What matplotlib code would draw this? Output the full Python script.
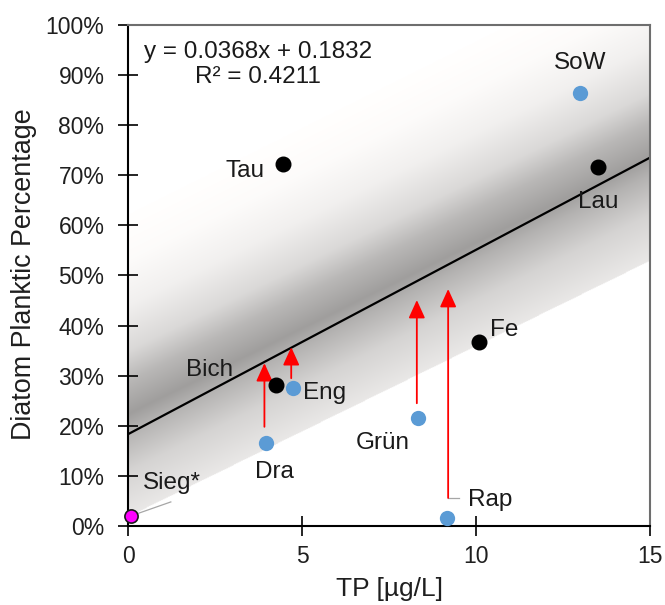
import numpy as np
import matplotlib
matplotlib.use("Agg")
import matplotlib.pyplot as plt
from matplotlib.ticker import PercentFormatter

plt.rcParams['font.family'] = ['Liberation Sans', 'DejaVu Sans']

# Lake data: total phosphorus (µg/L) and planktic diatom share
black_names = ["Tau", "Lau", "Fe", "Bich"]
black_tp = [4.45, 13.5, 10.1, 4.26]
black_pct = [0.723, 0.716, 0.367, 0.281]

blue_names = ["SoW", "Eng", "Dra", "Grün", "Rap"]
blue_tp = [12.99, 4.75, 3.97, 8.34, 9.17]
blue_pct = [0.864, 0.275, 0.166, 0.216, 0.016]

sieg_tp = [0.08]
sieg_pct = [0.02]

# Arrows: x, start, end
arrow_tp = [3.92, 4.69, 8.30, 9.20]
arrow_from = [0.198, 0.295, 0.245, 0.056]
arrow_to = [0.325, 0.357, 0.451, 0.473]

# Regression
slope, intercept = 0.0368, 0.1832

# Shaded band edges (intercept, slope)
band_lo = (0.018, 0.034)
band_hi = (0.620, 0.0345)

# Label positions (x, y) for each point
label_pos = {
    "Tau": (3.36, 0.709), "Lau": (13.5, 0.647), "Fe": (10.8, 0.391),
    "Bich": (2.33, 0.311), "SoW": (12.99, 0.924), "Eng": (5.66, 0.265),
    "Dra": (4.20, 0.108), "Grün": (7.33, 0.166), "Rap": (10.4, 0.052),
    "Sieg*": (1.26, 0.086),
}

fig = plt.figure(figsize=(6.65, 6.05), dpi=100)
ax = fig.add_axes([0.1925, 0.1306, 0.7849, 0.8281])
ax.set_xlim(0, 15)
ax.set_ylim(0, 1)

# Gradient band
nx, ny = 600, 600
X, Y = np.meshgrid(np.linspace(0, 15, nx), np.linspace(0, 1, ny))
lo = band_lo[0] + band_lo[1] * X
hi = band_hi[0] + band_hi[1] * X
t = (Y - lo) / (hi - lo)
prof_t = [0.0, 0.15, 0.28, 0.34, 0.45, 0.55, 0.70, 0.85, 1.0]
prof_v = [0.91, 0.83, 0.70, 0.62, 0.72, 0.85, 0.94, 0.985, 1.0]
v = np.interp(t, prof_t, prof_v)
rgba = np.zeros((ny, nx, 4))
rgba[..., 0] = np.clip(v + 0.006, 0, 1)
rgba[..., 1] = v
rgba[..., 2] = np.clip(v - 0.004, 0, 1)
rgba[..., 3] = ((t >= 0) & (t <= 1)).astype(float)
ax.imshow(rgba, extent=[0, 15, 0, 1], origin='lower', aspect='auto',
          interpolation='bilinear', zorder=0)

# Regression line
xs = np.array([0, 15])
ax.plot(xs, intercept + slope * xs, color='black', lw=1.6, zorder=2)

# Leader lines
ax.plot([sieg_tp[0], 1.23], [sieg_pct[0], 0.048], color='#a6a6a6', lw=0.9, zorder=2)
ax.plot([9.20, 9.51], [0.056, 0.056], color='#a6a6a6', lw=0.9, zorder=2)

# Arrows
for x, a, b in zip(arrow_tp, arrow_from, arrow_to):
    ax.annotate('', xy=(x, b), xytext=(x, a),
                arrowprops=dict(arrowstyle='-|>,head_length=1.1,head_width=0.5',
                                color='#ff0000', lw=1.3, mutation_scale=10,
                                shrinkA=0, shrinkB=0), zorder=3)

# Points
ax.plot(black_tp, black_pct, 'o', color='black', ms=10.5, zorder=4)
ax.plot(blue_tp, blue_pct, 'o', color='#5b9bd5', ms=11, mec='none', zorder=4)
ax.plot(sieg_tp, sieg_pct, 'o', color='#ff00ff', ms=9.5, mec='#1a1a1a', mew=1.2,
        zorder=5, clip_on=False)

for name, (lx, ly) in label_pos.items():
    ax.text(lx, ly, name, fontsize=17.5, ha='center', va='center', color='#1a1a1a', zorder=6)

ax.text(3.74, 0.946, "y = 0.0368x + 0.1832", fontsize=17.5, ha='center', va='center',
        color='#1a1a1a')
ax.text(3.74, 0.896, "R² = 0.4211", fontsize=17.5, ha='center', va='center',
        color='#1a1a1a')

# Axes styling
ax.set_xticks([0, 5, 10, 15])
ax.set_yticks(np.arange(0, 1.01, 0.1))
ax.yaxis.set_major_formatter(PercentFormatter(1.0, decimals=0))
ax.tick_params(direction='inout', length=14, width=1.2, labelsize=16.5,
               labelcolor='#1f1f1f')
ax.tick_params(axis='y', pad=10)
ax.tick_params(axis='x', pad=7)
for side in ['left', 'bottom']:
    ax.spines[side].set_color('black')
    ax.spines[side].set_linewidth(1.5)
for side in ['top', 'right']:
    ax.spines[side].set_color('#6e6e6e')
    ax.spines[side].set_linewidth(1.5)

fig.text(390 / 665, 1 - 589 / 605, "TP [µg/L]", fontsize=19, color='#1f1f1f',
         ha='center', va='center')
fig.text(24 / 665, 1 - 274 / 605, "Diatom Planktic Percentage", fontsize=19.4,
         color='#1f1f1f', ha='center', va='center', rotation=90)

fig.savefig("out.png", dpi=100)
